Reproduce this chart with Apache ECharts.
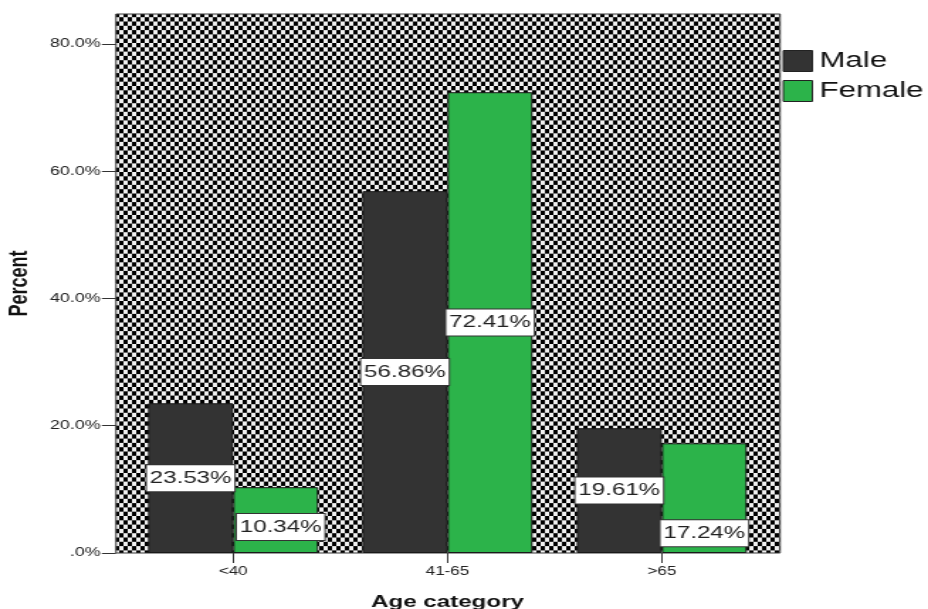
<!DOCTYPE html>
<html>
<head>
<meta charset="utf-8">
<script src="https://cdn.jsdelivr.net/npm/echarts@6/dist/echarts.min.js"></script>
<style>
  html, body { margin: 0; padding: 0; background: #fff; overflow: hidden; }
  /* the chart is laid out on a narrower canvas and widened horizontally */
  #wrap { width: 654px; height: 609px; transform: scaleX(1.41896); transform-origin: 0 0; }
</style>
</head>
<body>
<div id="wrap"></div>
<script>
const categories = ['<40', '41-65', '>65'];
const maleValues = [23.53, 56.86, 19.61];
const femaleValues = [10.34, 72.41, 17.24];
const seriesNames = ['Male', 'Female'];
const yTicks = [0, 20, 40, 60, 80];
const yMax = 84.7;

const MALE_COLOR = '#333333';
const FEMALE_COLOR = '#2cb34a';

// checkerboard tile for the plot background
function checkerTile() {
  const c = document.createElement('canvas');
  c.width = 6; c.height = 43;
  const g = c.getContext('2d');
  g.fillStyle = '#f0f0f0';
  g.fillRect(0, 0, c.width, c.height);
  g.fillStyle = '#000000';
  const rowH = 4.3;
  for (let i = 0; i < 10; i++) {
    g.fillRect((i % 2) * 3, i * rowH, 3, rowH);
  }
  return c;
}

const chart = echarts.init(document.getElementById('wrap'), null, { renderer: 'canvas' });

const valueLabel = {
  show: true,
  position: 'inside',
  formatter: p => p.value.toFixed(2) + '%',
  fontFamily: 'Liberation Sans, Arial, sans-serif',
  fontSize: 17,
  color: '#222',
  backgroundColor: '#ffffff',
  borderColor: '#333',
  borderWidth: 1,
  padding: [4, 2, 3, 2],
  lineHeight: 19
};

// labels on the short female bars sit a little lower, clear of the male labels
const femaleLabelShift = [[3.5, 7], [0, 0], [0, 35]];

const option = {
  animation: false,
  textStyle: { fontFamily: 'Liberation Sans, Arial, sans-serif' },
  graphic: [{
    type: 'rect',
    z: 0,
    shape: { x: 81.75, y: 14, width: 468, height: 539 },
    style: {
      fill: { image: checkerTile(), repeat: 'repeat' },
      stroke: '#3a3a3a',
      lineWidth: 1
    }
  }],
  legend: {
    data: seriesNames,
    orient: 'vertical',
    left: 551.5,
    top: 50,
    padding: 0,
    itemWidth: 20.5,
    itemHeight: 21,
    itemGap: 8,
    icon: 'rect',
    itemStyle: { borderColor: '#222', borderWidth: 1 },
    textStyle: { fontSize: 22, color: '#111', lineHeight: 21 }
  },
  grid: {
    left: 88.8, right: 112.1, top: 14, bottom: 56,
    containLabel: false,
    outerBoundsMode: 'none'
  },
  xAxis: {
    type: 'category',
    data: categories,
    name: 'Age category',
    nameLocation: 'middle',
    nameGap: 41,
    nameTextStyle: { fontSize: 17, fontWeight: 'bold', color: '#111' },
    axisLine: { show: false },
    axisTick: { show: true, alignWithLabel: true, length: 10, lineStyle: { color: '#333' } },
    axisLabel: { fontSize: 12, color: '#222', margin: 13 }
  },
  yAxis: {
    type: 'value',
    min: 0,
    max: yMax,
    interval: 20,
    offset: 7.05,
    name: 'Percent',
    nameLocation: 'middle',
    nameRotate: 90,
    nameGap: 59,
    nameTextStyle: { fontSize: 18, fontWeight: 'bold', color: '#111' },
    axisLine: { show: false },
    splitLine: { show: false },
    axisTick: { show: true, length: 10, customValues: yTicks, lineStyle: { color: '#333' } },
    axisLabel: {
      fontSize: 12.5,
      color: '#222',
      margin: 11,
      customValues: yTicks,
      formatter: v => (v === 0 ? '.0%' : v.toFixed(1) + '%')
    }
  },
  series: [
    {
      name: seriesNames[0],
      type: 'bar',
      barGap: '0%',
      barCategoryGap: '20.6%',
      data: maleValues,
      itemStyle: { color: MALE_COLOR, borderColor: '#1a1a1a', borderWidth: 1 },
      label: valueLabel
    },
    {
      name: seriesNames[1],
      type: 'bar',
      barGap: '0%',
      barCategoryGap: '20.6%',
      data: femaleValues.map((v, i) => ({ value: v, label: { offset: femaleLabelShift[i] } })),
      itemStyle: { color: FEMALE_COLOR, borderColor: '#1a1a1a', borderWidth: 1 },
      label: valueLabel
    }
  ]
};

chart.setOption(option);
</script>
</body>
</html>
